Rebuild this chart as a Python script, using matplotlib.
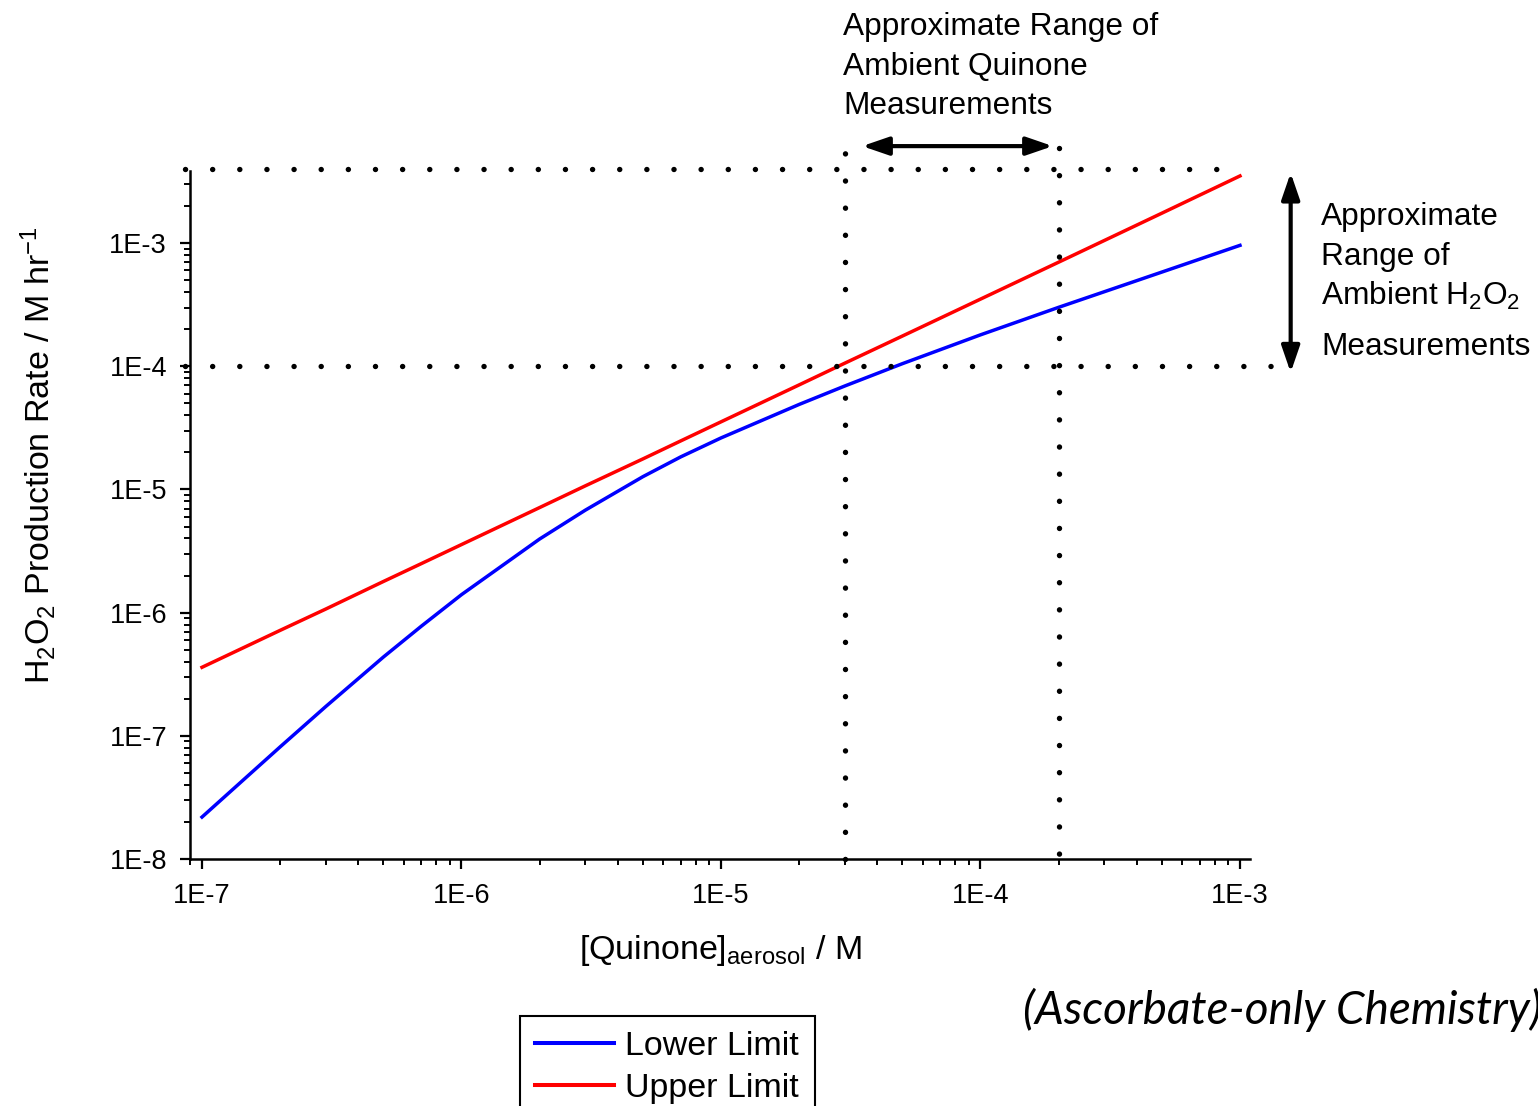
import numpy as np
import matplotlib
matplotlib.use('Agg')
import matplotlib.pyplot as plt
from matplotlib.ticker import LogLocator, FuncFormatter, NullFormatter

plt.rcParams['font.family'] = ['Liberation Sans', 'DejaVu Sans']
plt.rcParams['mathtext.fontset'] = 'custom'
plt.rcParams['mathtext.rm'] = 'Liberation Sans'
plt.rcParams['mathtext.it'] = 'Liberation Sans:italic'
plt.rcParams['mathtext.bf'] = 'Liberation Sans:bold'

# quinone concentration in the aerosol (M)
quinone = np.array([1e-7, 2e-7, 3e-7, 5e-7, 7e-7, 1e-6, 2e-6, 3e-6, 5e-6, 7e-6,
                    1e-5, 2e-5, 3e-5, 5e-5, 1e-4, 2e-4, 5e-4, 1e-3])
# H2O2 production rate (M/hr)
lower = np.array([2.19e-8, 8.13e-8, 1.73e-7, 4.36e-7, 7.76e-7, 1.40e-6, 3.96e-6, 6.79e-6, 1.27e-5,
                  1.84e-5, 2.62e-5, 4.90e-5, 6.92e-5, 1.05e-4, 1.80e-4, 3.01e-4, 5.82e-4, 9.59e-4])
upper = np.array([3.60e-7, 7.18e-7, 1.07e-6, 1.79e-6, 2.50e-6, 3.57e-6, 7.13e-6, 1.07e-5, 1.77e-5,
                  2.48e-5, 3.54e-5, 7.06e-5, 1.06e-4, 1.76e-4, 3.51e-4, 7.00e-4, 1.75e-3, 3.51e-3])

# ambient ranges
quinone_range = [3.0e-5, 2.0e-4]
h2o2_range = [1.0e-4, 4.0e-3]

W, H = 1538, 1106
fig = plt.figure(figsize=(W / 100, H / 100), dpi=100)
ax = fig.add_axes([190 / W, 1 - 859 / H, 1060 / W, 688 / H])


def fpos(x, y):
    return x / W, 1 - y / H


ax.plot(quinone, lower, color='#0000ff', lw=2.5, label='Lower Limit')
ax.plot(quinone, upper, color='#ff0000', lw=2.5, label='Upper Limit')

ax.set_xscale('log')
ax.set_yscale('log')
ax.set_xlim(8.99e-8, 1.093e-3)
ax.set_ylim(1e-8, 3.85e-3)

for s in ['top', 'right']:
    ax.spines[s].set_visible(False)
for s in ['left', 'bottom']:
    ax.spines[s].set_linewidth(1.8)

fmt = FuncFormatter(lambda v, p: '1E%d' % int(round(np.log10(v))))
for axis in [ax.xaxis, ax.yaxis]:
    axis.set_major_locator(LogLocator(base=10, numticks=12))
    axis.set_minor_locator(LogLocator(base=10, subs=np.arange(2, 10), numticks=12))
    axis.set_major_formatter(fmt)
    axis.set_minor_formatter(NullFormatter())
ax.tick_params(which='major', direction='out', length=7.5, width=1.6, labelsize=19.5)
ax.tick_params(axis='x', which='major', pad=10)
ax.tick_params(axis='y', which='major', pad=9)
ax.tick_params(which='minor', direction='out', length=4, width=1.4)

# dotted guide lines
dots = dict(color='black', lw=3.9, linestyle=(0, (0.01, 5.0)),
            dash_capstyle='round', clip_on=False, zorder=3)
ax.plot([8.6e-8, 1.019e-3], [h2o2_range[1], h2o2_range[1]], **dots)
ax.plot([8.6e-8, 1.34e-3], [h2o2_range[0], h2o2_range[0]], **dots)
ax.plot([quinone_range[0], quinone_range[0]], [1e-8, 8.75e-3], **dots)
ax.plot([quinone_range[1], quinone_range[1]], [5.9e-3, 1e-8], **dots)

# range arrows
arrow = dict(arrowstyle='<|-|>,head_length=1.6,head_width=0.55', mutation_scale=10,
             lw=3.0, color='black', shrinkA=0, shrinkB=0)
ax.annotate('', xy=(1.90e-4, 6.13e-3), xytext=(3.50e-5, 6.13e-3),
            arrowprops=arrow, annotation_clip=False)
ax.annotate('', xy=(1.568e-3, 8.9e-5), xytext=(1.568e-3, 3.72e-3),
            arrowprops=arrow, annotation_clip=False)

# annotations
for txt, yb in [('Approximate Range of', 35), ('Ambient Quinone', 75), ('Measurements', 114)]:
    fig.text(*fpos(843, yb), txt, fontsize=22.8, ha='left', va='baseline')
for txt, yb in [('Approximate', 225), ('Range of', 265),
                (r'Ambient H$_2$O$_2$', 305), ('Measurements', 355)]:
    fig.text(*fpos(1321, yb), txt, fontsize=22.8, ha='left', va='baseline')

fig.text(*fpos(38, 455), r'H$_2$O$_2$ Production Rate / M hr$^{-1}$', fontsize=24.5,
         rotation=90, ha='center', va='center')
fig.text(*fpos(720, 950), r'[Quinone]$_{\rm aerosol}$ / M', fontsize=24.5,
         ha='center', va='center')

fig.text(*fpos(1023, 1010), '(Ascorbate-only Chemistry)', fontsize=33,
         family=['Lato', 'DejaVu Sans'], style='italic', ha='left', va='center')

leg = fig.legend(loc='upper left', bbox_to_anchor=fpos(520, 1016), bbox_transform=fig.transFigure,
                 fontsize=24.5, frameon=True, fancybox=False, edgecolor='black', framealpha=1,
                 handlelength=2.3, handletextpad=0.35, labelspacing=0.3, borderpad=0.45,
                 borderaxespad=0)
leg.get_frame().set_linewidth(1.5)
for line in leg.get_lines():
    line.set_linewidth(2.9)

fig.savefig('out.png', dpi=100)
